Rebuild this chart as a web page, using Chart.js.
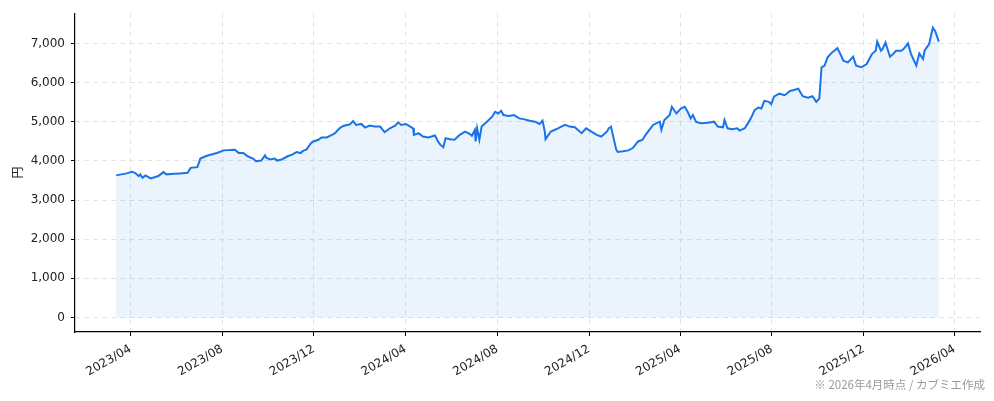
<!DOCTYPE html>
<html>
<head>
<meta charset="utf-8">
<script src="https://cdn.jsdelivr.net/npm/chart.js@4"></script>
<style>
html,body{margin:0;padding:0;background:#fff;}
#wrap{position:relative;width:994px;height:401px;}
</style>
</head>
<body>
<div id="wrap"><canvas id="c" width="994" height="401"></canvas></div>
<script>
const dates = [
"2023-03-13","2023-03-27","2023-04-03","2023-04-07","2023-04-12","2023-04-14","2023-04-17","2023-04-21","2023-04-28",
"2023-05-08","2023-05-15","2023-05-19","2023-05-29","2023-06-06","2023-06-16","2023-06-20","2023-06-29",
"2023-07-03","2023-07-10","2023-07-14","2023-07-25","2023-08-03","2023-08-11","2023-08-18","2023-08-23","2023-08-29",
"2023-09-04","2023-09-07","2023-09-11","2023-09-15","2023-09-22","2023-09-27","2023-09-29","2023-10-04","2023-10-10",
"2023-10-13","2023-10-19","2023-10-27","2023-11-02","2023-11-08","2023-11-13","2023-11-17","2023-11-21","2023-11-27",
"2023-11-30","2023-12-07","2023-12-11","2023-12-18","2023-12-25","2023-12-29","2024-01-04","2024-01-09","2024-01-18",
"2024-01-22","2024-01-26","2024-02-02","2024-02-07","2024-02-13","2024-02-20","2024-02-27","2024-03-04","2024-03-11",
"2024-03-18","2024-03-22","2024-03-26","2024-04-01","2024-04-05","2024-04-11","2024-04-12","2024-04-18","2024-04-24",
"2024-05-01","2024-05-10","2024-05-14","2024-05-17","2024-05-21","2024-05-24","2024-05-30","2024-06-05","2024-06-12",
"2024-06-19","2024-06-25","2024-06-28","2024-07-02","2024-07-03","2024-07-05","2024-07-08","2024-07-11","2024-07-18",
"2024-07-25","2024-07-29","2024-08-02","2024-08-06","2024-08-09","2024-08-16","2024-08-23","2024-08-30","2024-09-06",
"2024-09-13","2024-09-20","2024-09-26","2024-09-30","2024-10-03","2024-10-04","2024-10-11","2024-10-18","2024-10-25",
"2024-10-30","2024-11-05","2024-11-12","2024-11-15","2024-11-21","2024-11-27","2024-12-04","2024-12-11","2024-12-17",
"2024-12-20","2024-12-25","2024-12-27","2024-12-30","2025-01-06","2025-01-08","2025-01-15","2025-01-22","2025-01-28",
"2025-02-04","2025-02-10","2025-02-14","2025-02-19","2025-02-24","2025-02-28","2025-03-05","2025-03-07","2025-03-11",
"2025-03-18","2025-03-21","2025-03-27","2025-04-02","2025-04-07","2025-04-11","2025-04-15","2025-04-18","2025-04-22",
"2025-04-28","2025-05-08","2025-05-16","2025-05-21","2025-05-28","2025-05-30","2025-06-03","2025-06-09","2025-06-16",
"2025-06-19","2025-06-26","2025-06-30","2025-07-04","2025-07-09","2025-07-14","2025-07-18","2025-07-22","2025-07-28",
"2025-07-31","2025-08-04","2025-08-11","2025-08-18","2025-08-25","2025-08-29","2025-09-05","2025-09-11","2025-09-18",
"2025-09-24","2025-09-29","2025-10-03","2025-10-06","2025-10-10","2025-10-14","2025-10-20","2025-10-23","2025-10-27",
"2025-10-30","2025-11-04","2025-11-10","2025-11-17","2025-11-21","2025-11-28","2025-12-05","2025-12-12","2025-12-17",
"2025-12-19","2025-12-24","2025-12-26","2025-12-30","2026-01-05","2026-01-09","2026-01-13","2026-01-20","2026-01-23",
"2026-01-29","2026-02-02","2026-02-09","2026-02-13","2026-02-18","2026-02-20","2026-02-26","2026-03-03","2026-03-06",
"2026-03-11"
];
const prices = [
3631,3682,3722,3697,3614,3657,3571,3631,3555,
3614,3715,3657,3672,3682,3697,3823,3841,
4061,4119,4144,4202,4270,4278,4288,4202,4202,
4119,4093,4061,3993,4010,4144,4076,4036,4061,
4010,4036,4119,4161,4228,4202,4263,4288,4455,
4498,4541,4599,4599,4667,4708,4834,4895,4935,
5021,4920,4945,4852,4902,4877,4877,4733,4834,
4902,4986,4920,4945,4902,4834,4667,4708,4624,
4599,4650,4498,4415,4350,4582,4556,4541,4667,
4751,4692,4642,4794,4498,4834,4541,4877,5003,
5130,5256,5213,5281,5172,5147,5172,5087,5062,
5029,5003,4945,5029,4751,4556,4751,4809,4877,
4920,4877,4860,4809,4708,4834,4751,4667,4624,
4667,4760,4834,4877,4288,4228,4245,4270,4329,
4498,4541,4667,4794,4920,4960,5003,4794,5046,
5172,5383,5213,5340,5383,5256,5087,5172,5003,
4960,4978,5003,4877,4860,5046,4834,4809,4834,
4776,4834,4960,5087,5299,5365,5340,5534,5509,
5451,5650,5718,5678,5787,5804,5845,5653,5618,
5653,5509,5592,6393,6436,6646,6772,6815,6882,
6772,6562,6519,6663,6436,6393,6477,6730,6815,
7050,6815,6857,7024,6663,6730,6815,6815,6857,
7000,6730,6436,6747,6604,6815,6983,7404,7320,
7050
];
const xTickLabels = ["2023/04","2023/08","2023/12","2024/04","2024/08","2024/12","2025/04","2025/08","2025/12","2026/04"];
const yTickValues = [0,1000,2000,3000,4000,5000,6000,7000];
const yAxisTitle = "円";
const footnote = "※ 2026年4月時点 / カブミエ作成";

const DAY = 86400000;
const toDay = s => Date.parse(s) / DAY;
const points = dates.map((d, i) => ({x: toDay(d), y: prices[i]}));
const xTickPos = xTickLabels.map(l => toDay(l.replace('/', '-') + '-01'));
const x0 = points[0].x, x1 = points[points.length - 1].x;
const xSpan = x1 - x0;
const yMaxData = Math.max(...prices);
const yMinData = 0;
const ySpan = yMaxData - yMinData;

const FONT = "'DejaVu Sans', 'Noto Sans CJK JP', sans-serif";

const footnotePlugin = {
  id: 'footnote',
  afterDraw(chart) {
    const ctx = chart.ctx;
    ctx.save();
    ctx.font = "11.5px 'Noto Sans CJK JP', 'DejaVu Sans', sans-serif";
    ctx.fillStyle = '#9a9a9a';
    ctx.textAlign = 'right';
    ctx.textBaseline = 'alphabetic';
    ctx.fillText(footnote, 985, 389);
    ctx.restore();
  }
};

const gridOpts = {
  color: '#e3e3e3',
  lineWidth: 1,
  tickColor: '#000',
  tickLength: 4,
  tickBorderDash: []
};

new Chart(document.getElementById('c'), {
  type: 'line',
  data: {
    datasets: [{
      data: points,
      borderColor: '#1a73e8',
      borderWidth: 2,
      backgroundColor: 'rgba(26,115,232,0.085)',
      fill: 'origin',
      pointRadius: 0,
      tension: 0
    }]
  },
  options: {
    responsive: false,
    animation: false,
    devicePixelRatio: 1,
    layout: {padding: {left: 0, top: 10, right: 14, bottom: 0}},
    plugins: {legend: {display: false}, tooltip: {enabled: false}},
    scales: {
      x: {
        type: 'linear',
        min: x0 - 0.05 * xSpan,
        max: x1 + 0.05 * xSpan,
        afterBuildTicks(scale) { scale.ticks = xTickPos.map(v => ({value: v})); },
        afterFit(scale) { scale.height = 69; },
        ticks: {
          autoSkip: false,
          minRotation: 30,
          maxRotation: 30,
          padding: 6,
          color: '#222',
          font: {family: FONT, size: 12},
          callback(value) {
            const i = xTickPos.indexOf(value);
            return i >= 0 ? xTickLabels[i] : '';
          }
        },
        grid: gridOpts,
        border: {display: true, color: '#000', width: 1.2, dash: [5, 4]}
      },
      y: {
        type: 'linear',
        min: yMinData - 0.05 * ySpan,
        max: yMaxData + 0.05 * ySpan,
        afterBuildTicks(scale) { scale.ticks = yTickValues.map(v => ({value: v})); },
        afterFit(scale) { scale.width = 75; },
        ticks: {
          padding: 6,
          color: '#222',
          font: {family: FONT, size: 12},
          callback(value) { return value.toLocaleString('en-US'); }
        },
        grid: gridOpts,
        border: {display: true, color: '#000', width: 1.2, dash: [5, 4]},
        title: {
          display: true,
          text: yAxisTitle,
          color: '#222',
          font: {family: "'Noto Sans CJK JP', sans-serif", size: 12},
          padding: {top: 10, bottom: 4}
        }
      }
    }
  },
  plugins: [footnotePlugin]
});
</script>
</body>
</html>
